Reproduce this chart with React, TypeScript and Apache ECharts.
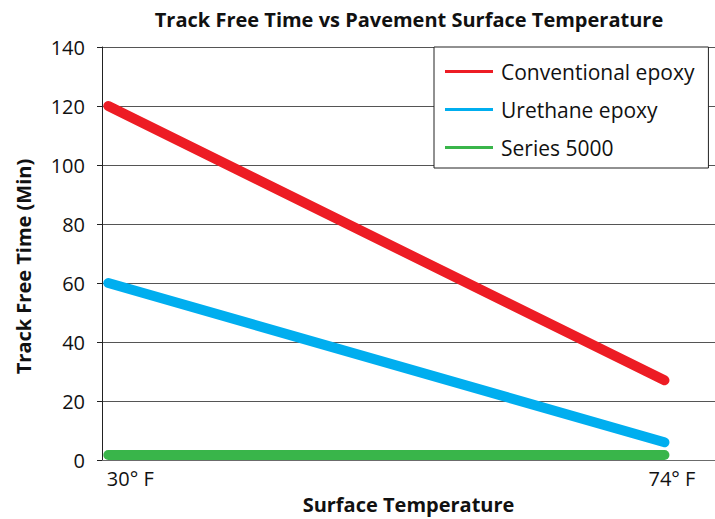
import React, { useEffect, useRef } from "react";
import * as echarts from "echarts";

const temperatures = [30, 74];
const tempLabels = ["30° F", "74° F"];
const seriesNames = ["Conventional epoxy", "Urethane epoxy", "Series 5000"];
const conventional = [120, 27];
const urethane = [60, 6];
const series5000 = [1.7, 1.7];
const colors = ["#ED1C24", "#00AEEF", "#39B54A"];

export default function App() {
  const ref = useRef<HTMLDivElement>(null);
  useEffect(() => {
    document.body.style.margin = "0";
    const chart = echarts.init(ref.current!, null, { renderer: "svg" });
    const values = [conventional, urethane, series5000];
    const font = "'Open Sans', Roboto, 'Liberation Sans', Arial, sans-serif";
    chart.setOption({
      animation: false,
      backgroundColor: "#ffffff",
      textStyle: { fontFamily: font },
      title: {
        text: "Track Free Time vs Pavement Surface Temperature",
        left: 404,
        textAlign: "center",
        top: 4,
        textStyle: { fontSize: 20, fontWeight: "bold", color: "#111", fontFamily: font },
      },
      grid: { left: 102, right: 0, top: 47, bottom: 55, containLabel: false },
      legend: {
        orient: "vertical",
        left: 434,
        top: 47,
        data: seriesNames,
        backgroundColor: "#ffffff",
        borderColor: "#222",
        borderWidth: 1,
        borderRadius: 0,
        padding: [13, 14, 9, 11],
        itemGap: 15,
        itemWidth: 48,
        itemHeight: 3,
        icon: "rect",
        textStyle: { fontSize: 21, color: "#111", lineHeight: 23, padding: [0, 0, 0, 3], fontFamily: font },
      },
      xAxis: {
        type: "value",
        min: 29.5,
        max: 78,
        name: "Surface Temperature",
        nameLocation: "middle",
        nameGap: 34,
        nameTextStyle: { fontSize: 20, fontWeight: "bold", color: "#111", fontFamily: font },
        axisLine: { show: true, lineStyle: { color: "#6b6b6b", width: 1 } },
        axisTick: { show: false },
        splitLine: { show: false },
        axisLabel: {
          customValues: temperatures,
          margin: 8,
          fontSize: 20,
          color: "#111",
          formatter: (v: number) => {
            const i = temperatures.indexOf(v);
            if (i < 0) return "";
            return i === 0 ? `{l|${tempLabels[i]}}` : `{r|${tempLabels[i]}}`;
          },
          rich: {
            l: { fontSize: 20, color: "#111", padding: [0, 0, 0, 44], fontFamily: font },
            r: { fontSize: 20, color: "#111", padding: [0, 0, 0, 15], fontFamily: font },
          },
        },
      },
      yAxis: {
        type: "value",
        min: 0,
        max: 140,
        interval: 20,
        name: "Track Free Time (Min)",
        nameLocation: "middle",
        nameGap: 69,
        nameTextStyle: { fontSize: 20, fontWeight: "bold", color: "#111", fontFamily: font, padding: [0, 26, 0, 0] },
        axisLine: { show: true, lineStyle: { color: "#222", width: 1 } },
        axisTick: { show: true, length: 5, inside: false, lineStyle: { color: "#222" } },
        splitLine: { show: true, lineStyle: { color: "#555", width: 1 } },
        axisLabel: { margin: 17, fontSize: 20, color: "#111", fontFamily: font },
      },
      series: seriesNames.map((name, i) => ({
        name,
        type: "line",
        data: temperatures.map((t, j) => [t, values[i][j]]),
        showSymbol: false,
        symbol: "none",
        color: colors[i],
        lineStyle: { color: colors[i], width: 10, cap: "round" },
      })),
    });
    return () => chart.dispose();
  }, []);
  return <div ref={ref} style={{ position: "fixed", left: 0, top: 0, width: 715, height: 519 }} />;
}
